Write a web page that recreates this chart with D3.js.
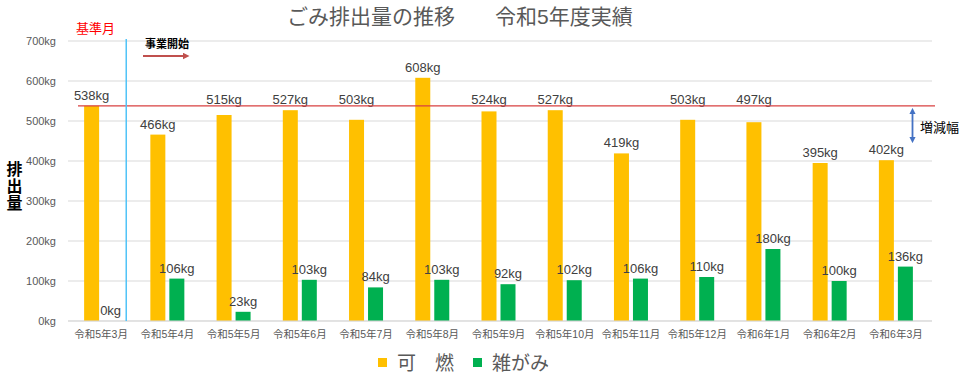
<!DOCTYPE html>
<html>
<head>
<meta charset="utf-8">
<script src="https://cdn.jsdelivr.net/npm/d3@7"></script>
<style>
  body { margin: 0; background: #fff; }
  svg text { font-family: "Liberation Sans", "Noto Sans CJK JP", sans-serif; }
</style>
</head>
<body>
<div id="chart"></div>
<script>
    const months = ["令和5年3月", "令和5年4月", "令和5年5月", "令和5年6月", "令和5年7月", "令和5年8月",
        "令和5年9月", "令和5年10月", "令和5年11月", "令和5年12月", "令和6年1月", "令和6年2月", "令和6年3月"];
    const burnable = [538, 466, 515, 527, 503, 608, 524, 527, 419, 503, 497, 395, 402];
    const paper = [0, 106, 23, 103, 84, 103, 92, 102, 106, 110, 180, 100, 136];
    const seriesNames = ["可　燃", "雑がみ"];
    const yTicks = [0, 100, 200, 300, 400, 500, 600, 700];
    const baseline = 538;

    const width = 961;
    const height = 376;
    const margin = { left: 68, right: 32, top: 41, bottom: 55 };

    const colors = ["#FFC000", "#00B050"];

    const svg = d3.select("#chart").append("svg")
        .attr("width", width)
        .attr("height", height);

    const x = d3.scaleBand()
        .domain(months)
        .range([margin.left, width - margin.right]);

    const y = d3.scaleLinear()
        .domain([0, 700])
        .range([height - margin.bottom, margin.top]);

    const x1 = d3.scaleBand()
        .domain([0, 1])
        .range([x.bandwidth() / 2 - 17, x.bandwidth() / 2 + 17])
        .paddingInner(4 / 19);

    // gridlines
    svg.append("g")
        .selectAll("line")
        .data(yTicks)
        .join("line")
        .attr("x1", margin.left)
        .attr("x2", width - margin.right + 3)
        .attr("y1", d => y(d))
        .attr("y2", d => y(d))
        .attr("stroke", "#D9D9D9")
        .attr("stroke-width", 1);

    // y axis labels
    const yAxis = d3.axisLeft(y).tickValues(yTicks).tickSize(0).tickPadding(12)
        .tickFormat(d => d + "kg");
    svg.append("g")
        .attr("transform", `translate(${margin.left},0)`)
        .call(yAxis)
        .call(g => g.select(".domain").remove())
        .call(g => g.selectAll("text")
            .attr("fill", "#595959")
            .style("font-size", "11px"));

    // x axis labels
    const xAxis = d3.axisBottom(x).tickSize(0).tickPadding(10);
    svg.append("g")
        .attr("transform", `translate(0,${y(0)})`)
        .call(xAxis)
        .call(g => g.select(".domain").remove())
        .call(g => g.selectAll("text")
            .attr("fill", "#595959")
            .style("font-size", "10.5px"));

    const rows = months.map((m, i) => ({ month: m, values: [burnable[i], paper[i]] }));

    const groups = svg.append("g")
        .selectAll("g")
        .data(rows)
        .join("g")
        .attr("transform", d => `translate(${x(d.month)},0)`);

    groups.selectAll("rect")
        .data(d => d.values.map((v, s) => ({ v, s })))
        .join("rect")
        .attr("x", d => x1(d.s))
        .attr("width", x1.bandwidth())
        .attr("y", d => y(d.v))
        .attr("height", d => y(0) - y(d.v))
        .attr("fill", d => colors[d.s]);

    // reference line at base month value
    svg.append("line")
        .attr("x1", margin.left + 10)
        .attr("x2", width - margin.right + 6)
        .attr("y1", y(baseline))
        .attr("y2", y(baseline))
        .attr("stroke", "#D84040")
        .attr("stroke-width", 1.2);

    // labels that would sit on the red line are lifted above it
    function labelY(v) {
        const ly = y(v) - 6;
        const ry = y(baseline);
        if (ly > ry - 3 && ly < ry + 22) return ry - 2;
        return ly;
    }

    groups.selectAll("text.lbl")
        .data(d => d.values.map((v, s) => ({ v, s })))
        .join("text")
        .attr("class", "lbl")
        .attr("x", d => x1(d.s) + x1.bandwidth() / 2)
        .attr("y", d => labelY(d.v))
        .attr("text-anchor", "middle")
        .attr("fill", "#404040")
        .style("font-size", "13px")
        .text(d => d.v + "kg");

    // bottom axis line
    svg.append("line")
        .attr("x1", margin.left)
        .attr("x2", width - margin.right + 3)
        .attr("y1", y(0))
        .attr("y2", y(0))
        .attr("stroke", "#D9D9D9");

    // start-of-project vertical line
    const startX = x(months[1]) - 8;
    svg.append("line")
        .attr("x1", startX).attr("x2", startX)
        .attr("y1", y(700) - 2).attr("y2", y(0))
        .attr("stroke", "#4FC3F7")
        .attr("stroke-width", 1.5);

    const defs = svg.append("defs");
    defs.append("marker")
        .attr("id", "redHead")
        .attr("viewBox", "0 0 10 10")
        .attr("refX", 5).attr("refY", 5)
        .attr("markerWidth", 3.5).attr("markerHeight", 3.5)
        .attr("orient", "auto")
        .append("path").attr("d", "M0,0L10,5L0,10Z").attr("fill", "#C0504D");
    defs.append("marker")
        .attr("id", "blueHead")
        .attr("viewBox", "0 0 10 10")
        .attr("refX", 5).attr("refY", 5)
        .attr("markerWidth", 3.5).attr("markerHeight", 3.5)
        .attr("orient", "auto-start-reverse")
        .append("path").attr("d", "M0,0L10,5L0,10Z").attr("fill", "#4472C4");

    svg.append("text")
        .attr("x", 76).attr("y", 33)
        .attr("fill", "#FF0000")
        .style("font-size", "13px")
        .text("基準月");

    svg.append("text")
        .attr("x", 145).attr("y", 48)
        .attr("fill", "#000")
        .style("font-size", "11px")
        .style("font-weight", "bold")
        .text("事業開始");

    svg.append("line")
        .attr("x1", 143).attr("x2", 186)
        .attr("y1", 56).attr("y2", 56)
        .attr("stroke", "#C0504D")
        .attr("stroke-width", 2)
        .attr("marker-end", "url(#redHead)");

    // change range arrow
    svg.append("line")
        .attr("x1", 912.5).attr("x2", 912.5)
        .attr("y1", 111).attr("y2", 140)
        .attr("stroke", "#4472C4")
        .attr("stroke-width", 1.8)
        .attr("marker-start", "url(#blueHead)")
        .attr("marker-end", "url(#blueHead)");

    svg.append("text")
        .attr("x", 920).attr("y", 132)
        .attr("fill", "#000")
        .style("font-size", "13px")
        .text("増減幅");

    // title
    svg.append("text")
        .attr("x", 287).attr("y", 24)
        .attr("fill", "#595959")
        .style("font-size", "21px")
        .text("ごみ排出量の推移");
    svg.append("text")
        .attr("x", 495).attr("y", 24)
        .attr("fill", "#595959")
        .style("font-size", "21px")
        .text("令和5年度実績");

    // y axis title, written vertically
    svg.append("text")
        .attr("x", 13)
        .attr("y", 161)
        .style("writing-mode", "vertical-rl")
        .style("font-size", "16px")
        .style("font-weight", "bold")
        .style("letter-spacing", "1px")
        .attr("fill", "#000")
        .text("排出量");

    // legend
    const legend = svg.append("g");
    const legendX = [378, 473];
    seriesNames.forEach((name, i) => {
        legend.append("rect")
            .attr("x", legendX[i]).attr("y", 358)
            .attr("width", 9).attr("height", 9)
            .attr("fill", colors[i]);
        legend.append("text")
            .attr("x", legendX[i] + 19).attr("y", 370)
            .attr("fill", "#595959")
            .style("font-size", "19px")
            .text(name);
    });
</script>
</body>
</html>
